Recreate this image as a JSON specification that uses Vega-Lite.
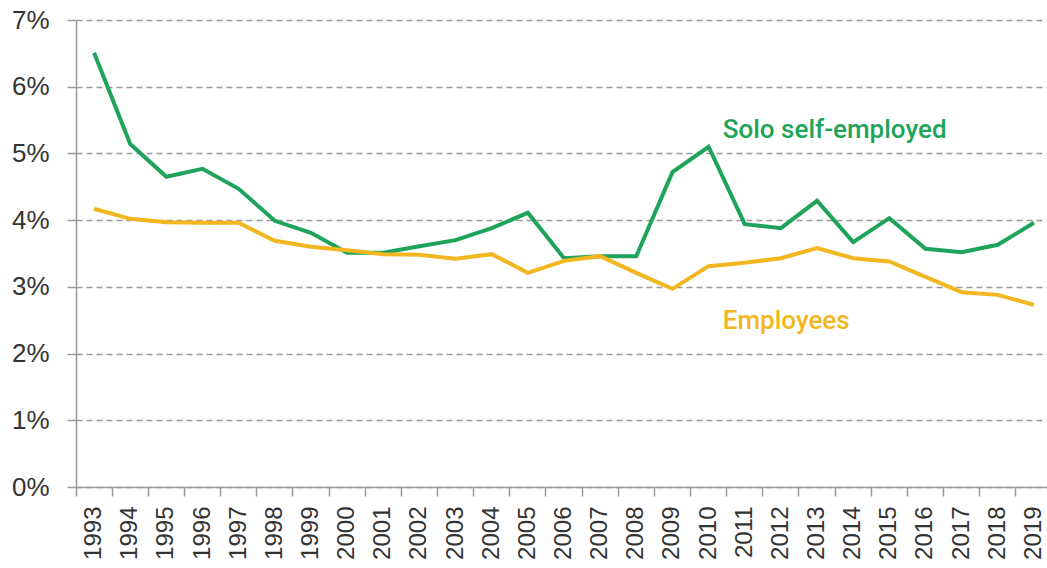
{
  "$schema": "https://vega.github.io/schema/vega-lite/v6.json",
  "autosize": "none",
  "width": 976,
  "height": 467,
  "padding": {"left": 76, "top": 20, "right": 0, "bottom": 81},
  "background": "white",
  "config": {"view": {"stroke": null}},
  "datasets": {
    "series": [
      {"year": "1993", "series": "Solo self-employed", "value": 6.51},
      {"year": "1994", "series": "Solo self-employed", "value": 5.14},
      {"year": "1995", "series": "Solo self-employed", "value": 4.65},
      {"year": "1996", "series": "Solo self-employed", "value": 4.77},
      {"year": "1997", "series": "Solo self-employed", "value": 4.47},
      {"year": "1998", "series": "Solo self-employed", "value": 3.99},
      {"year": "1999", "series": "Solo self-employed", "value": 3.81},
      {"year": "2000", "series": "Solo self-employed", "value": 3.51},
      {"year": "2001", "series": "Solo self-employed", "value": 3.51},
      {"year": "2002", "series": "Solo self-employed", "value": 3.61},
      {"year": "2003", "series": "Solo self-employed", "value": 3.7},
      {"year": "2004", "series": "Solo self-employed", "value": 3.88},
      {"year": "2005", "series": "Solo self-employed", "value": 4.11},
      {"year": "2006", "series": "Solo self-employed", "value": 3.43},
      {"year": "2007", "series": "Solo self-employed", "value": 3.46},
      {"year": "2008", "series": "Solo self-employed", "value": 3.46},
      {"year": "2009", "series": "Solo self-employed", "value": 4.72},
      {"year": "2010", "series": "Solo self-employed", "value": 5.1},
      {"year": "2011", "series": "Solo self-employed", "value": 3.94},
      {"year": "2012", "series": "Solo self-employed", "value": 3.88},
      {"year": "2013", "series": "Solo self-employed", "value": 4.29},
      {"year": "2014", "series": "Solo self-employed", "value": 3.67},
      {"year": "2015", "series": "Solo self-employed", "value": 4.03},
      {"year": "2016", "series": "Solo self-employed", "value": 3.57},
      {"year": "2017", "series": "Solo self-employed", "value": 3.52},
      {"year": "2018", "series": "Solo self-employed", "value": 3.63},
      {"year": "2019", "series": "Solo self-employed", "value": 3.96},
      {"year": "1993", "series": "Employees", "value": 4.17},
      {"year": "1994", "series": "Employees", "value": 4.02},
      {"year": "1995", "series": "Employees", "value": 3.97},
      {"year": "1996", "series": "Employees", "value": 3.96},
      {"year": "1997", "series": "Employees", "value": 3.96},
      {"year": "1998", "series": "Employees", "value": 3.69},
      {"year": "1999", "series": "Employees", "value": 3.6},
      {"year": "2000", "series": "Employees", "value": 3.55},
      {"year": "2001", "series": "Employees", "value": 3.49},
      {"year": "2002", "series": "Employees", "value": 3.48},
      {"year": "2003", "series": "Employees", "value": 3.42},
      {"year": "2004", "series": "Employees", "value": 3.49},
      {"year": "2005", "series": "Employees", "value": 3.21},
      {"year": "2006", "series": "Employees", "value": 3.39},
      {"year": "2007", "series": "Employees", "value": 3.46},
      {"year": "2008", "series": "Employees", "value": 3.21},
      {"year": "2009", "series": "Employees", "value": 2.97},
      {"year": "2010", "series": "Employees", "value": 3.31},
      {"year": "2011", "series": "Employees", "value": 3.36},
      {"year": "2012", "series": "Employees", "value": 3.43},
      {"year": "2013", "series": "Employees", "value": 3.58},
      {"year": "2014", "series": "Employees", "value": 3.43},
      {"year": "2015", "series": "Employees", "value": 3.38},
      {"year": "2016", "series": "Employees", "value": 3.15},
      {"year": "2017", "series": "Employees", "value": 2.92},
      {"year": "2018", "series": "Employees", "value": 2.88},
      {"year": "2019", "series": "Employees", "value": 2.73}
    ],
    "labels": [
      {"year": "2011", "series": "Solo self-employed", "value": 5.35},
      {"year": "2011", "series": "Employees", "value": 2.49}
    ]
  },
  "encoding": {
    "x": {
      "field": "year", "type": "ordinal",
      "scale": {"type": "band", "paddingInner": 0, "paddingOuter": 0},
      "axis": {
        "title": null, "bandPosition": 0, "labelAngle": -90, "labelAlign": "right", "labelBaseline": "middle",
        "labelOffset": 0, "labelPadding": 10, "labelFont": "Liberation Sans", "labelFontSize": 24,
        "labelColor": "#333333", "domainColor": "#9a9a9a", "domainWidth": 1.5, "tickColor": "#9a9a9a",
        "tickWidth": 1.5, "tickSize": 9, "grid": false
      }
    },
    "y": {
      "field": "value", "type": "quantitative",
      "scale": {"domain": [0, 7], "nice": false, "zero": true},
      "axis": {
        "title": null, "values": [0, 1, 2, 3, 4, 5, 6, 7], "labelExpr": "datum.value + '%'",
        "labelFont": "Liberation Sans", "labelFontSize": 26, "labelColor": "#333333", "labelPadding": 18,
        "domainColor": "#9a9a9a", "domainWidth": 1.5, "tickColor": "#9a9a9a", "tickWidth": 1.5, "tickSize": 9,
        "grid": true, "gridColor": "#9a9a9a", "gridDash": [6, 4], "gridWidth": 1.5
      }
    },
    "color": {
      "field": "series", "type": "nominal",
      "scale": {"domain": ["Solo self-employed", "Employees"], "range": ["#1ea45a", "#f2b61e"]},
      "legend": null
    }
  },
  "layer": [
    {
      "data": {"name": "series"},
      "mark": {"type": "line", "strokeWidth": 4, "strokeJoin": "miter", "clip": false}
    },
    {
      "data": {"name": "labels"},
      "mark": {"type": "text", "align": "left", "baseline": "middle", "dx": -22, "font": "Roboto", "fontWeight": 500, "fontSize": 26},
      "encoding": {"text": {"field": "series"}}
    }
  ]
}
